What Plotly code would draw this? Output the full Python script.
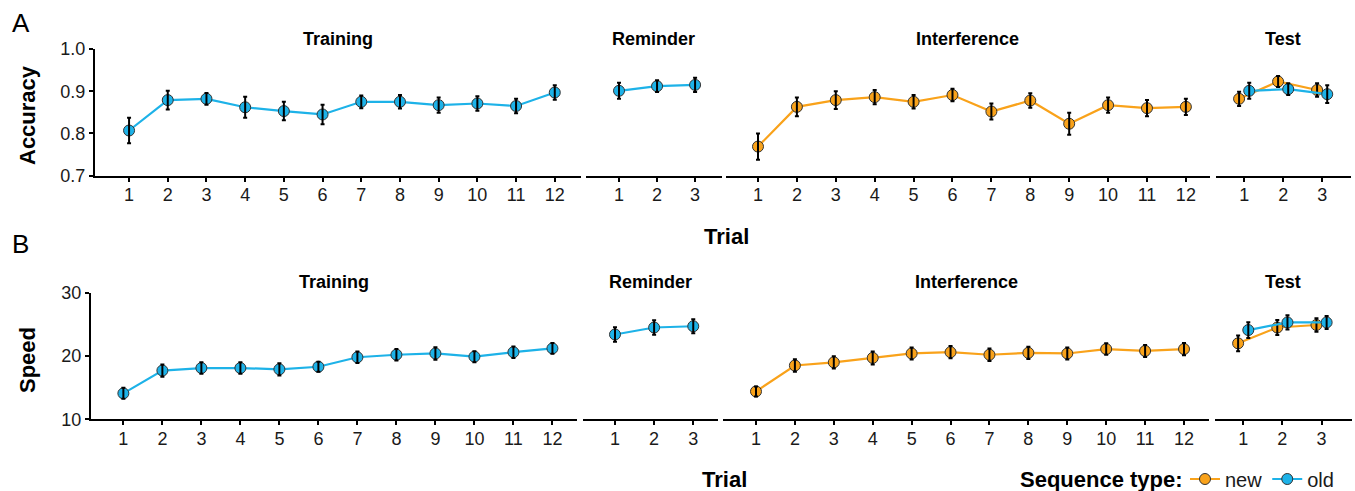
import plotly.graph_objects as go

W, H = 1355, 491

# ---------------- data ----------------
train_trials = list(range(1, 13))
rem_trials = [1, 2, 3]
int_trials = list(range(1, 13))
test_trials = [1, 2, 3]

# Panel A: Accuracy
acc_train_old = [0.807, 0.879, 0.882, 0.862, 0.853, 0.845, 0.875, 0.875, 0.867, 0.871, 0.865, 0.897]
acc_train_old_se = [0.030, 0.022, 0.014, 0.025, 0.022, 0.023, 0.015, 0.016, 0.018, 0.017, 0.017, 0.017]
acc_rem_old = [0.901, 0.912, 0.915]
acc_rem_old_se = [0.019, 0.014, 0.017]
acc_int_new = [0.769, 0.863, 0.879, 0.886, 0.875, 0.891, 0.852, 0.878, 0.823, 0.867, 0.860, 0.863]
acc_int_new_se = [0.031, 0.022, 0.021, 0.017, 0.016, 0.015, 0.019, 0.017, 0.026, 0.018, 0.019, 0.019]
acc_test_new = [0.882, 0.923, 0.903]
acc_test_new_se = [0.017, 0.013, 0.016]
acc_test_old = [0.901, 0.905, 0.893]
acc_test_old_se = [0.019, 0.014, 0.021]

# Panel B: Speed
spd_train_old = [14.1, 17.7, 18.1, 18.1, 17.9, 18.3, 19.8, 20.2, 20.4, 19.9, 20.6, 21.2]
spd_train_old_se = [0.87, 0.97, 0.90, 0.90, 0.97, 0.80, 0.90, 0.92, 1.00, 0.87, 0.92, 0.84]
spd_rem_old = [23.4, 24.5, 24.7]
spd_rem_old_se = [1.16, 1.16, 1.10]
spd_int_new = [14.4, 18.5, 19.0, 19.7, 20.4, 20.6, 20.2, 20.5, 20.4, 21.1, 20.8, 21.1]
spd_int_new_se = [0.79, 0.97, 0.97, 1.03, 0.95, 0.97, 1.00, 0.97, 0.95, 0.92, 0.95, 0.97]
spd_test_new = [22.0, 24.5, 24.9]
spd_test_new_se = [1.24, 1.18, 1.08]
spd_test_old = [24.1, 25.3, 25.3]
spd_test_old_se = [1.24, 1.13, 1.03]

panel_titles = ["Training", "Reminder", "Interference", "Test"]
acc_ticks = [0.7, 0.8, 0.9, 1.0]
spd_ticks = [10, 20, 30]

# ---------------- styles ----------------
BLUE = "#1DB2E8"
ORANGE = "#F9A21A"
DODGE = 0.13
FONT = "Liberation Sans, Arial, Helvetica, sans-serif"
TXT = "#1a1a1a"

# pixel layout of panels (left, right) and x ranges
A_dom = [(95, 580.7), (585.7, 721.7), (725.7, 1210), (1215.7, 1351)]
A_rng = [(0.12, 12.67), (0.124, 3.70), (0.17, 12.62), (0.27, 3.74)]
B_dom = [(91, 577), (582.7, 718.3), (723.3, 1209.3), (1215, 1351.7)]
B_rng = [(0.17, 12.63), (0.175, 3.64), (0.16, 12.65), (0.28, 3.77)]
A_y = (175.7, 49)   # bottom, top pixel
B_y = (419.3, 292.7)


def px(x):
    return x / W


def py(y):
    return 1 - y / H


fig = go.Figure()


def add_series(i, xs, ys, se, color, name=None, show=False, rank=None):
    ax = "" if i == 1 else str(i)
    fig.add_trace(go.Scatter(
        x=xs, y=ys, mode="lines+markers", xaxis="x" + ax, yaxis="y" + ax,
        line=dict(color=color, width=2.2),
        marker=dict(color=color, size=11, line=dict(color="#333333", width=1)),
        name=name, showlegend=show, legendrank=rank if rank else 1000,
    ))
    fig.add_trace(go.Scatter(
        x=xs, y=ys, mode="markers", xaxis="x" + ax, yaxis="y" + ax,
        marker=dict(size=1, color="rgba(0,0,0,0)"),
        error_y=dict(type="data", array=se, color="black", thickness=2, width=2),
        showlegend=False, hoverinfo="skip",
    ))


# Panel A
add_series(1, train_trials, acc_train_old, acc_train_old_se, BLUE, "old", True, 2)
add_series(2, rem_trials, acc_rem_old, acc_rem_old_se, BLUE)
add_series(3, int_trials, acc_int_new, acc_int_new_se, ORANGE, "new", True, 1)
add_series(4, [t - DODGE for t in test_trials], acc_test_new, acc_test_new_se, ORANGE)
add_series(4, [t + DODGE for t in test_trials], acc_test_old, acc_test_old_se, BLUE)
# Panel B
add_series(5, train_trials, spd_train_old, spd_train_old_se, BLUE)
add_series(6, rem_trials, spd_rem_old, spd_rem_old_se, BLUE)
add_series(7, int_trials, spd_int_new, spd_int_new_se, ORANGE)
add_series(8, [t - DODGE for t in test_trials], spd_test_new, spd_test_new_se, ORANGE)
add_series(8, [t + DODGE for t in test_trials], spd_test_old, spd_test_old_se, BLUE)

trial_sets = [train_trials, rem_trials, int_trials, test_trials]
layout = {}
annotations = []

for row, (doms, rngs, ypx, yr, yt) in enumerate([
    (A_dom, A_rng, A_y, (0.7, 1.0), acc_ticks),
    (B_dom, B_rng, B_y, (10, 30), spd_ticks),
]):
    for k in range(4):
        i = row * 4 + k + 1
        ax = "" if i == 1 else str(i)
        trials = trial_sets[k]
        layout["xaxis" + ax] = dict(
            domain=[px(doms[k][0]), px(doms[k][1])], range=list(rngs[k]),
            anchor="y" + ax, showline=True, linecolor="black", linewidth=2,
            ticks="outside", ticklen=4, tickwidth=1.5, tickcolor="black",
            tickvals=trials, ticktext=[str(t) for t in trials],
            tickfont=dict(size=18, color=TXT, family=FONT), ticklabelstandoff=-2,
            showgrid=False, zeroline=False, fixedrange=True,
        )
        layout["yaxis" + ax] = dict(
            domain=[py(ypx[0]), py(ypx[1])], range=list(yr), anchor="x" + ax,
            visible=(k == 0), showline=True, linecolor="black", linewidth=2,
            ticks="outside", ticklen=4, tickwidth=1.5, tickcolor="black",
            tickvals=yt, ticktext=[("%.1f" % v) if row == 0 else str(v) for v in yt],
            tickfont=dict(size=18, color=TXT, family=FONT),
            showgrid=False, zeroline=False, fixedrange=True,
        )
        annotations.append(dict(
            text="<b>%s</b>" % panel_titles[k], xref="paper", yref="paper",
            x=px((doms[k][0] + doms[k][1]) / 2), y=py(39 if row == 0 else 282),
            xanchor="center", yanchor="middle", showarrow=False,
            font=dict(size=18, color="black", family=FONT),
        ))

# axis titles and panel letters
big = [
    dict(text="<b>Accuracy</b>", x=px(27), y=py(115), textangle=-90),
    dict(text="<b>Speed</b>", x=px(27), y=py(360), textangle=-90),
    dict(text="<b>Trial</b>", x=px(727), y=py(236)),
    dict(text="<b>Trial</b>", x=px(724), y=py(479)),
    dict(text="<b>Sequence type:</b>", x=px(1101), y=py(479)),
]
for a in big:
    a.update(xref="paper", yref="paper", xanchor="center", yanchor="middle",
             showarrow=False, font=dict(size=22, color="black", family=FONT))
annotations += big
annotations += [
    dict(text="A", x=px(21), y=py(23), xref="paper", yref="paper", showarrow=False,
         xanchor="center", yanchor="middle", font=dict(size=26, color="black", family=FONT)),
    dict(text="B", x=px(20), y=py(244), xref="paper", yref="paper", showarrow=False,
         xanchor="center", yanchor="middle", font=dict(size=26, color="black", family=FONT)),
]

fig.update_layout(
    width=W, height=H, autosize=False,
    margin=dict(l=0, r=0, t=0, b=0, pad=0, autoexpand=False),
    paper_bgcolor="white", plot_bgcolor="white",
    font=dict(family=FONT, color="black"),
    annotations=annotations,
    showlegend=True,
    legend=dict(
        orientation="h", x=px(1185), y=py(479), xanchor="left", yanchor="middle",
        font=dict(size=20, family=FONT, color=TXT), itemwidth=30,
        bgcolor="rgba(0,0,0,0)", traceorder="normal",
    ),
    **layout,
)

fig.write_html(
    "out.html",
    config={"displayModeBar": False},
    post_script="document.body.style.margin='0';document.body.style.overflow='hidden';",
)
